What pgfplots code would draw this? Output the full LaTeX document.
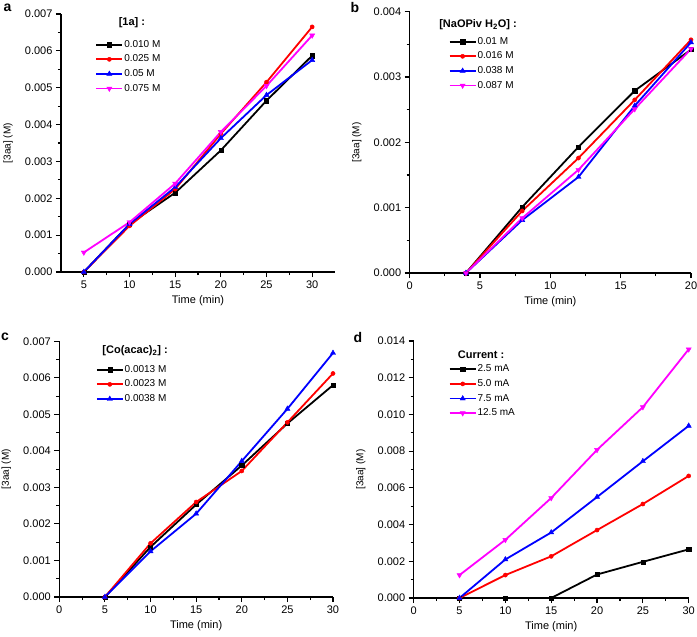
\documentclass[border=0pt]{standalone}
\usepackage{pgfplots}
\pgfplotsset{compat=1.18}
\usepackage{fontspec}
\setmainfont{Liberation Sans}
\definecolor{mag}{RGB}{255,0,255}
\tikzset{ttl/.style={font=\bfseries\fontsize{11}{12}\selectfont, anchor=center}}
\pgfplotsset{
 panel/.style={
   scale only axis,
   axis x line*=bottom, axis y line*=left,
   axis line style={line width=1.5pt},
   tick align=outside,
   major tick length=5pt, minor tick length=3pt,
   every tick/.style={line width=1.1pt, black},
   minor x tick num=1, minor y tick num=1,
   ymin=0,
   scaled y ticks=false,
   yticklabel style={/pgf/number format/.cd, fixed, fixed zerofill, precision=3},
   /pgf/number format/assume math mode=true,
   tick label style={font=\fontsize{11}{12}\selectfont},
   label style={font=\fontsize{11}{13}\selectfont},
   xlabel={Time (min)},
   ylabel={{[3aa] (M)}},
   every axis y label/.style={at={(rel axis cs:0,0.5)}, xshift=-53pt, rotate=90, anchor=center},
   clip=false,
   legend style={draw=none, fill=none, font=\fontsize{10}{11}\selectfont, anchor=north west, legend cell align=left, row sep=3.6pt, inner sep=0pt, nodes={inner sep=1pt, text height=7pt, text depth=2pt}},
   legend image code/.code={\draw[line width=1.8pt, mark repeat=2,mark phase=2] plot coordinates {(0pt,0pt)(13pt,0pt)(26pt,0pt)};},
   every axis plot/.append style={line width=1.8pt},
 },
 s1/.style={black, mark=square*, mark size=2.1pt, mark options={line width=0.4pt}},
 s2/.style={red, mark=*, mark size=2.1pt, mark options={line width=0.4pt}},
 s3/.style={blue, mark=triangle*, mark size=3pt, mark options={line width=0.4pt}},
 s4/.style={mag, mark=triangle*, mark size=3pt, mark options={line width=0.4pt, rotate=180}},
}
\begin{document}
\begin{tikzpicture}
\useasboundingbox (0,0) rectangle (697pt,-637pt);
\node[font=\bfseries\fontsize{14}{15}\selectfont] at (7.5pt,-8pt) {a};
\node[font=\bfseries\fontsize{14}{15}\selectfont] at (355pt,-7.5pt) {b};
\node[font=\bfseries\fontsize{14}{15}\selectfont] at (5pt,-337pt) {c};
\node[font=\bfseries\fontsize{14}{15}\selectfont] at (358pt,-337pt) {d};
% Panel a
\begin{axis}[panel, at={(61pt,-272pt)}, anchor=south west, width=274pt, height=258pt,
  xmin=2.5, xmax=32.5, ymax=0.007, xtick={5,10,...,30}, ytick={0,0.001,...,0.0071},
  legend style={at={(0.125,0.903)}}]
\addplot[s1] coordinates {(5,0) (10,0.0013) (15,0.00215) (20,0.0033) (25,0.00465) (30,0.00587)};
\addplot[s2] coordinates {(5,0) (10,0.00125) (15,0.00225) (20,0.00375) (25,0.00515) (30,0.00665)};
\addplot[s3] coordinates {(5,0) (10,0.0013) (15,0.0023) (20,0.00363) (25,0.0048) (30,0.00575)};
\addplot[s4] coordinates {(5,0.00053) (10,0.00135) (15,0.0024) (20,0.0038) (25,0.00505) (30,0.00642)};
\legend{0.010 M, 0.025 M, 0.05 M, 0.075 M}
\node[ttl] at (rel axis cs:0.259,0.965) {[1a] :};
\end{axis}
% Panel b
\begin{axis}[panel, at={(409.7pt,-273pt)}, anchor=south west, width=281.3pt, height=261.3pt,
  xmin=0, xmax=20, ymax=0.004, xtick={0,5,...,20}, ytick={0,0.001,...,0.0041},
  legend style={at={(0.138,0.907)}}]
\addplot[s1] coordinates {(4,0) (8,0.00101) (12,0.00193) (16,0.00279) (20,0.00342)};
\addplot[s2] coordinates {(4,0) (8,0.00095) (12,0.00176) (16,0.00265) (20,0.00357)};
\addplot[s3] coordinates {(4,0) (8,0.00081) (12,0.00147) (16,0.00256) (20,0.00353)};
\addplot[s4] coordinates {(4,0) (8,0.00084) (12,0.00158) (16,0.00251) (20,0.00343)};
\legend{0.01 M, 0.016 M, 0.038 M, 0.087 M}
\node[ttl] at (rel axis cs:0.243,0.949) {[NaOPiv H\textsubscript{2}O] :};
\end{axis}
% Panel c
\begin{axis}[panel, at={(59.3pt,-597pt)}, anchor=south west, width=273.7pt, height=255.7pt,
  xmin=0, xmax=30, ymax=0.007, xtick={0,5,...,30}, ytick={0,0.001,...,0.0071},
  legend style={at={(0.133,0.911)}}]
\addplot[s1] coordinates {(5,0) (10,0.00137) (15,0.00253) (20,0.0036) (25,0.00475) (30,0.0058)};
\addplot[s2] coordinates {(5,0) (10,0.00147) (15,0.0026) (20,0.00345) (25,0.00478) (30,0.00612)};
\addplot[s3] coordinates {(5,0) (10,0.00125) (15,0.00228) (20,0.00372) (25,0.00515) (30,0.00668)};
\legend{0.0013 M, 0.0023 M, 0.0038 M}
\node[ttl] at (rel axis cs:0.277,0.962) {[Co(acac)\textsubscript{2}] :};
\end{axis}
% Panel d
\begin{axis}[panel, at={(413.7pt,-598pt)}, anchor=south west, width=275pt, height=257pt,
  xmin=0, xmax=30, ymax=0.014, xtick={0,5,...,30}, ytick={0,0.002,...,0.0141},
  legend style={at={(0.127,0.912)}}]
\addplot[s1] coordinates {(5,0) (10,0) (15,0) (20,0.00128) (25,0.00197) (30,0.00265)};
\addplot[s2] coordinates {(5,0) (10,0.00125) (15,0.00227) (20,0.0037) (25,0.00512) (30,0.00665)};
\addplot[s3] coordinates {(5,0) (10,0.0021) (15,0.00357) (20,0.0055) (25,0.00745) (30,0.00938)};
\addplot[s4] coordinates {(5,0.00125) (10,0.00317) (15,0.00545) (20,0.00807) (25,0.0104) (30,0.01355)};
\legend{2.5 mA, 5.0 mA, 7.5 mA, 12.5 mA}
\node[ttl] at (rel axis cs:0.245,0.947) {Current :};
\end{axis}
\end{tikzpicture}
\end{document}
